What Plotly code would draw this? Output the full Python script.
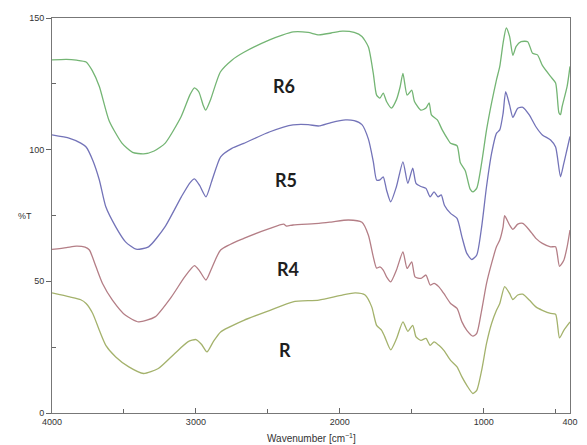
import plotly.graph_objects as go

# FTIR transmittance spectra, stacked (wavenumber in cm^-1, %T)
wn_r6 = [4000, 3900, 3830, 3763, 3720, 3671, 3603, 3514, 3440, 3364, 3290, 3213, 3103, 3040,
         3010, 2980, 2950, 2932, 2898, 2830, 2750, 2666, 2488, 2400, 2323, 2220, 2145, 2060,
         1981, 1900, 1846, 1801, 1767, 1744, 1721, 1698, 1675, 1641, 1606, 1580, 1561, 1532,
         1500, 1481, 1436, 1401, 1379, 1363, 1322, 1288, 1250, 1230, 1185, 1162, 1128, 1094,
         1075, 1048, 1014, 980, 945, 911, 888, 865, 843, 820, 797, 774, 740, 694, 660, 626,
         592, 535, 500, 477, 466, 455, 420, 400]
t_r6 = [134.1, 134.3, 134.0, 133.3, 130.0, 124.0, 111.0, 102.5, 99.0, 98.4, 99.5, 102.5, 112.5, 121.0,
        123.5, 122.0, 117.0, 115.0, 119.0, 129.5, 134.0, 137.0, 141.7, 143.5, 144.7, 144.5, 143.6, 144.3,
        145.0, 144.5, 143.0, 139.0, 129.0, 120.7, 119.6, 121.5, 118.3, 115.8, 119.0, 124.0, 129.0, 120.7,
        122.6, 118.3, 115.0, 115.8, 117.8, 113.2, 111.3, 107.5, 104.0, 102.4, 101.5, 95.0, 92.0, 85.0,
        84.0, 85.4, 95.0, 107.5, 117.8, 126.5, 131.6, 140.5, 146.2, 143.0, 135.8, 139.2, 141.0, 141.0,
        136.6, 136.0, 132.0, 127.8, 125.3, 114.0, 113.3, 116.3, 124.0, 131.6]

wn_r5 = [4000, 3877, 3800, 3763, 3717, 3671, 3626, 3557, 3489, 3416, 3329, 3215, 3101, 3040,
         3010, 2975, 2930, 2890, 2828, 2750, 2667, 2485, 2325, 2220, 2145, 2060, 1960, 1900,
         1846, 1801, 1767, 1744, 1721, 1698, 1675, 1646, 1606, 1561, 1527, 1493, 1470, 1436,
         1401, 1372, 1345, 1317, 1295, 1272, 1230, 1185, 1151, 1117, 1082, 1048, 1014, 980,
         945, 911, 888, 865, 847, 820, 797, 763, 728, 683, 637, 592, 535, 500, 466, 443, 427, 400]
t_r5 = [105.6, 104.3, 102.5, 101.0, 96.0, 88.5, 78.3, 70.7, 65.0, 62.2, 63.1, 70.7, 82.1, 87.5,
        88.9, 86.5, 82.1, 88.0, 97.3, 100.5, 102.4, 106.8, 109.4, 109.5, 109.0, 110.3, 111.3, 111.0,
        109.5, 104.0, 95.5, 88.5, 88.5, 89.7, 84.7, 80.2, 86.0, 95.4, 87.2, 93.0, 87.2, 86.0,
        85.3, 82.1, 84.0, 82.1, 82.8, 78.8, 75.8, 73.9, 66.9, 60.6, 58.3, 60.0, 70.7, 86.0,
        98.6, 106.2, 107.5, 113.8, 122.0, 117.0, 112.3, 115.7, 116.1, 113.2, 108.7, 105.6, 103.7, 101.0,
        89.7, 94.8, 98.6, 105.0]

wn_r4 = [4000, 3900, 3831, 3770, 3740, 3694, 3649, 3580, 3489, 3398, 3284, 3170, 3078, 3010,
         2975, 2930, 2890, 2828, 2667, 2485, 2390, 2370, 2325, 2145, 2060, 1940, 1846, 1801,
         1767, 1744, 1721, 1698, 1675, 1646, 1606, 1561, 1532, 1500, 1477, 1436, 1401, 1372,
         1345, 1311, 1277, 1230, 1185, 1151, 1117, 1075, 1048, 1014, 980, 945, 911, 888, 865,
         854, 820, 797, 763, 728, 683, 637, 592, 535, 500, 473, 443, 420, 400]
t_r4 = [62.1, 62.8, 63.4, 63.0, 61.9, 55.5, 49.2, 42.9, 37.1, 34.6, 36.5, 44.1, 51.7, 56.0,
        54.0, 50.5, 55.0, 61.9, 66.3, 70.1, 71.7, 71.0, 71.4, 72.0, 72.5, 73.3, 72.4, 67.5,
        59.3, 55.0, 55.5, 54.3, 51.7, 49.8, 54.3, 61.2, 54.9, 57.4, 51.7, 51.1, 52.4, 48.6,
        49.2, 47.9, 45.4, 41.6, 39.7, 34.6, 31.4, 29.2, 30.2, 39.0, 49.2, 56.8, 63.1, 65.7, 70.7,
        74.9, 71.4, 69.7, 71.7, 72.0, 69.5, 66.3, 64.4, 63.1, 63.1, 55.7, 58.0, 63.1, 69.5]

wn_r = [4000, 3877, 3800, 3763, 3717, 3671, 3626, 3557, 3466, 3364, 3261, 3147, 3056, 2999,
        2960, 2923, 2880, 2828, 2667, 2485, 2325, 2145, 1983, 1892, 1824, 1778, 1744, 1709,
        1687, 1646, 1606, 1561, 1527, 1493, 1470, 1436, 1401, 1372, 1345, 1311, 1277, 1230,
        1185, 1151, 1117, 1075, 1048, 1014, 980, 945, 911, 888, 854, 820, 797, 763, 728, 683,
        637, 592, 535, 500, 473, 443, 400]
t_r = [45.6, 44.1, 43.0, 41.6, 37.8, 31.4, 25.7, 21.3, 17.5, 15.0, 16.9, 22.6, 27.0, 27.9,
       26.0, 23.2, 27.0, 30.8, 35.2, 39.0, 42.2, 42.9, 44.8, 45.6, 44.8, 40.3, 33.3, 31.4,
       28.9, 24.0, 28.2, 34.6, 31.0, 33.3, 28.9, 27.6, 28.3, 25.7, 27.0, 25.7, 23.8, 20.0,
       17.5, 13.7, 10.5, 7.4, 8.6, 16.2, 26.4, 34.0, 39.0, 41.6, 48.0, 45.4, 43.1, 44.8, 45.1, 42.9,
       40.3, 39.0, 37.8, 37.5, 28.5, 31.4, 34.6]

series_names = ["R6", "R5", "R4", "R"]
series_colors = ["#74b574", "#7373b8", "#b47e86", "#a4b26c"]

# label anchor points (wavenumber, %T)
label_wn = [2385, 2371, 2361, 2383]
label_t = [124.2, 88.4, 54.6, 23.8]

x_ticks = [4000, 3000, 2000, 1000, 400]
x_minor = [3500, 2500, 1500, 500]
y_ticks = [0, 50, 100, 150]
y_minor = [25, 75, 125]

fig = go.Figure()
for name, wn, t, c in zip(series_names, [wn_r6, wn_r5, wn_r4, wn_r],
                          [t_r6, t_r5, t_r4, t_r], series_colors):
    fig.add_trace(go.Scatter(x=wn, y=t, mode="lines", name=name,
                             line=dict(color=c, width=1.3, shape="spline", smoothing=0.6),
                             showlegend=False))

for name, x, y in zip(series_names, label_wn, label_t):
    fig.add_annotation(x=x, y=y, text=f"<b>{name}</b>", showarrow=False,
                       font=dict(family="Lato, Open Sans, sans-serif", size=18, color="#1e1e1e"))

tick_font = dict(family="Liberation Sans, Arial, sans-serif", size=9, color="#333333")

fig.update_xaxes(range=[4000, 400], tickvals=x_ticks, ticktext=[str(v) for v in x_ticks],
                 ticks="inside", ticklen=5, tickcolor="#666666", tickwidth=1,
                 minor=dict(tickvals=x_minor, ticks="inside", ticklen=4, tickcolor="#666666"),
                 showline=True, linecolor="#777777", linewidth=1, mirror=True,
                 showgrid=False, zeroline=False, tickfont=tick_font)
fig.update_yaxes(range=[0, 150], tickvals=y_ticks, ticktext=[str(v) for v in y_ticks],
                 ticks="outside", ticklen=5, tickcolor="#666666", tickwidth=1,
                 minor=dict(tickvals=y_minor, ticks="inside", ticklen=4, tickcolor="#666666"),
                 showline=True, linecolor="#777777", linewidth=1, mirror=True,
                 showgrid=False, zeroline=False, tickfont=tick_font)

# axis titles
fig.add_annotation(xref="paper", yref="paper", x=0.5, y=0, yanchor="top", yshift=-17,
                   text="Wavenumber [cm<sup>−1</sup>]", showarrow=False,
                   font=dict(family="Liberation Sans, Arial, sans-serif", size=10, color="#333333"))
fig.add_annotation(xref="paper", yref="paper", x=0, y=0.5, xanchor="right", xshift=-18,
                   text="%T", showarrow=False,
                   font=dict(family="Liberation Sans, Arial, sans-serif", size=9, color="#333333"))

fig.update_layout(width=587, height=445, margin=dict(l=52, r=9, t=18, b=32),
                  paper_bgcolor="white", plot_bgcolor="white")

fig.write_html("out.html")
